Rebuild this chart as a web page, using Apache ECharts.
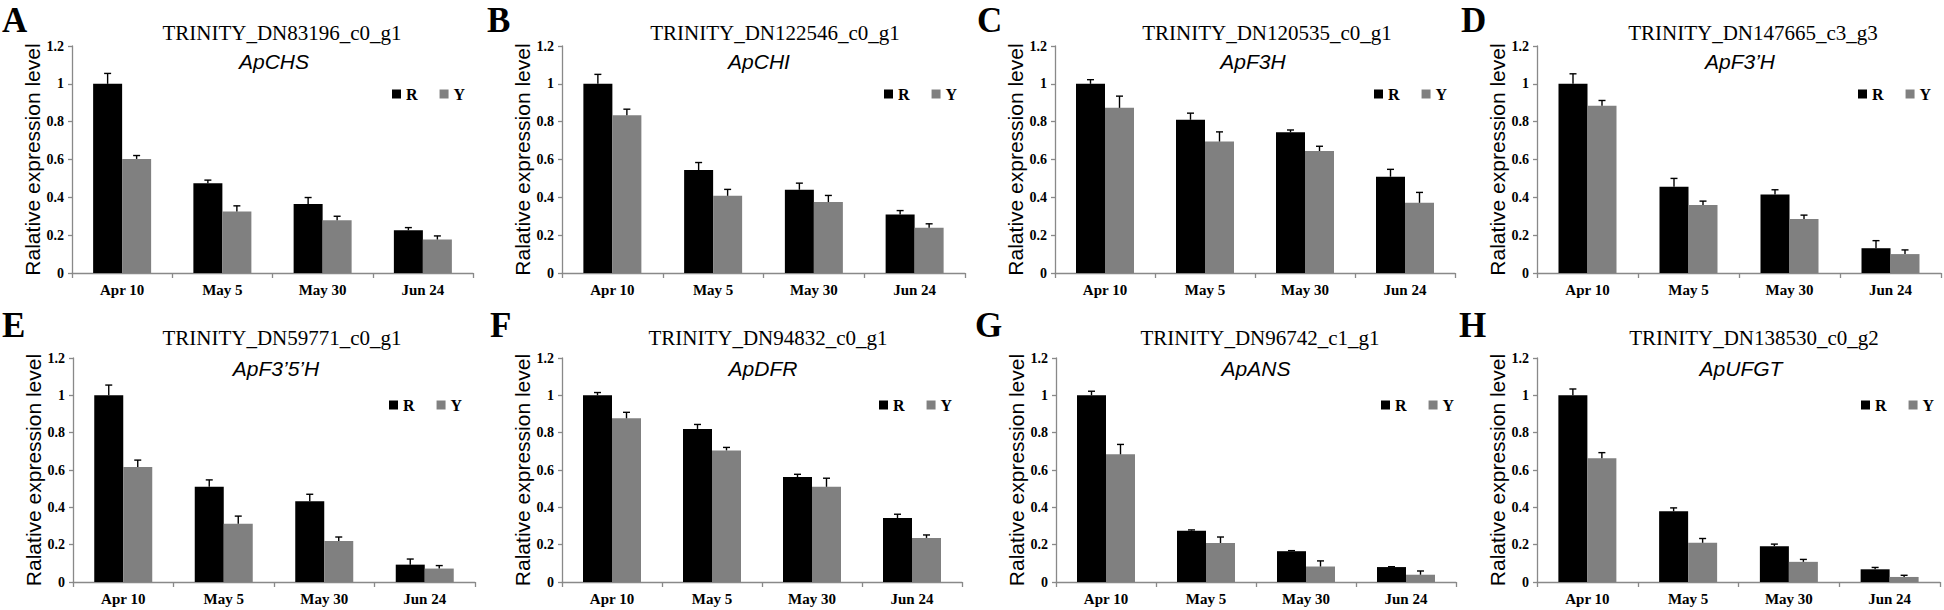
<!DOCTYPE html>
<html><head><meta charset="utf-8">
<script src="https://cdn.jsdelivr.net/npm/echarts@6/dist/echarts.min.js"></script>
<style>html,body{margin:0;padding:0;background:#fff;}#c{width:1944px;height:610px;}</style>
</head><body><div id="c"></div>
<script>
// ---------- DATA ----------
const categories = ['Apr 10', 'May 5', 'May 30', 'Jun 24'];
const seriesNames = ['R', 'Y'];
const panelLetters = ['A', 'B', 'C', 'D', 'E', 'F', 'G', 'H'];
const geneIds = ['TRINITY_DN83196_c0_g1', 'TRINITY_DN122546_c0_g1', 'TRINITY_DN120535_c0_g1', 'TRINITY_DN147665_c3_g3',
                 'TRINITY_DN59771_c0_g1', 'TRINITY_DN94832_c0_g1', 'TRINITY_DN96742_c1_g1', 'TRINITY_DN138530_c0_g2'];
const geneNames = ['ApCHS', 'ApCHI', 'ApF3H', 'ApF3\u2019H', 'ApF3\u20195\u2019H', 'ApDFR', 'ApANS', 'ApUFGT'];
const yAxisName = 'Ralative expression level';
const yMin = 0, yMax = 1.2, yInterval = 0.2;

const chsR = [1.00, 0.475, 0.365, 0.226];   const chsRErr = [0.055, 0.016, 0.034, 0.014];
const chsY = [0.603, 0.325, 0.279, 0.177];  const chsYErr = [0.018, 0.030, 0.021, 0.019];
const chiR = [1.00, 0.544, 0.440, 0.309];   const chiRErr = [0.050, 0.040, 0.035, 0.021];
const chiY = [0.834, 0.408, 0.375, 0.239];  const chiYErr = [0.032, 0.034, 0.035, 0.021];
const f3hR = [1.00, 0.810, 0.744, 0.509];   const f3hRErr = [0.022, 0.035, 0.012, 0.039];
const f3hY = [0.873, 0.695, 0.645, 0.371];  const f3hYErr = [0.062, 0.051, 0.025, 0.055];
const f3phR = [1.00, 0.456, 0.415, 0.131];  const f3phRErr = [0.053, 0.044, 0.025, 0.040];
const f3phY = [0.884, 0.360, 0.285, 0.100]; const f3phYErr = [0.028, 0.020, 0.021, 0.022];
const f35hR = [1.00, 0.510, 0.433, 0.093];  const f35hRErr = [0.055, 0.037, 0.037, 0.030];
const f35hY = [0.616, 0.312, 0.220, 0.072]; const f35hYErr = [0.037, 0.041, 0.021, 0.016];
const dfrR = [1.00, 0.820, 0.562, 0.343];   const dfrRErr = [0.015, 0.024, 0.015, 0.020];
const dfrY = [0.877, 0.705, 0.510, 0.236];  const dfrYErr = [0.032, 0.016, 0.046, 0.016];
const ansR = [1.00, 0.275, 0.165, 0.080];   const ansRErr = [0.022, 0.004, 0.003, 0.002];
const ansY = [0.684, 0.209, 0.083, 0.039];  const ansYErr = [0.053, 0.032, 0.030, 0.020];
const ufgtR = [1.00, 0.379, 0.192, 0.068];  const ufgtRErr = [0.034, 0.018, 0.011, 0.010];
const ufgtY = [0.663, 0.210, 0.108, 0.027]; const ufgtYErr = [0.030, 0.023, 0.013, 0.009];

const rMeans = [chsR, chiR, f3hR, f3phR, f35hR, dfrR, ansR, ufgtR];
const rErrs  = [chsRErr, chiRErr, f3hRErr, f3phRErr, f35hRErr, dfrRErr, ansRErr, ufgtRErr];
const yMeans = [chsY, chiY, f3hY, f3phY, f35hY, dfrY, ansY, ufgtY];
const yErrs  = [chsYErr, chiYErr, f3hYErr, f3phYErr, f35hYErr, dfrYErr, ansYErr, ufgtYErr];

// ---------- LAYOUT ----------
const layout = [
  {left: 72,   top: 46,  w: 401, h: 227, idX: 282,  idY: 33,  gX: 274,  gY: 61,  legX: 392,  legY: 86,  letX: 2,    letY: 20},
  {left: 562,  top: 46,  w: 403, h: 227, idX: 775,  idY: 33,  gX: 759,  gY: 61,  legX: 884,  legY: 86,  letX: 487,  letY: 20},
  {left: 1055, top: 46,  w: 400, h: 227, idX: 1267, idY: 33,  gX: 1253, gY: 61,  legX: 1374, legY: 86,  letX: 977,  letY: 20},
  {left: 1537, top: 46,  w: 404, h: 227, idX: 1753, idY: 33,  gX: 1740, gY: 61,  legX: 1858, legY: 86,  letX: 1461, letY: 20},
  {left: 73,   top: 358, w: 402, h: 224, idX: 282,  idY: 338, gX: 276,  gY: 368, legX: 389,  legY: 397, letX: 2,    letY: 325},
  {left: 562,  top: 358, w: 400, h: 224, idX: 768,  idY: 338, gX: 763,  gY: 368, legX: 879,  legY: 397, letX: 490,  letY: 325},
  {left: 1056, top: 358, w: 400, h: 224, idX: 1260, idY: 338, gX: 1256, gY: 368, legX: 1381, legY: 397, letX: 975,  letY: 325},
  {left: 1537, top: 358, w: 403, h: 224, idX: 1754, idY: 338, gX: 1741, gY: 368, legX: 1861, legY: 397, letX: 1459, letY: 325}
];
const BAR_W = 29;
const SERIF = 'Liberation Serif, Times New Roman, serif';
const SANS = 'Liberation Sans, Arial, sans-serif';
const AXIS_COLOR = '#898989';
const colors = {R: '#000000', Y: '#808080'};

function errRender(offset) {
  return function (params, api) {
    const idx = api.value(0), v = api.value(1), e = api.value(2);
    const base = api.coord([idx, v]);
    const top = api.coord([idx, v + e]);
    const x = base[0] + offset;
    return {
      type: 'group',
      children: [
        {type: 'line', shape: {x1: x, y1: base[1], x2: x, y2: top[1]}, style: {stroke: '#000', lineWidth: 1.4}},
        {type: 'line', shape: {x1: x - 3.5, y1: top[1], x2: x + 3.5, y2: top[1]}, style: {stroke: '#000', lineWidth: 1.4}}
      ]
    };
  };
}

const grids = [], xAxes = [], yAxes = [], series = [], legends = [], graphics = [];
layout.forEach((p, i) => {
  grids.push({left: p.left, top: p.top, width: p.w, height: p.h, containLabel: false, outerBoundsMode: 'none'});
  xAxes.push({
    type: 'category', gridIndex: i, data: categories,
    axisLine: {show: true, lineStyle: {color: AXIS_COLOR, width: 1.3}},
    axisTick: {show: true, length: 5, lineStyle: {color: AXIS_COLOR, width: 1.3}},
    axisLabel: {color: '#000', fontFamily: SERIF, fontWeight: 'bold', fontSize: 15, margin: 9}
  });
  yAxes.push({
    type: 'value', gridIndex: i, min: yMin, max: yMax, interval: yInterval,
    name: yAxisName, nameLocation: 'middle', nameGap: 21,
    nameTextStyle: {color: '#000', fontFamily: SANS, fontSize: 21},
    axisLine: {show: true, lineStyle: {color: AXIS_COLOR, width: 1.3}},
    axisTick: {show: true, length: 4, lineStyle: {color: AXIS_COLOR, width: 1.3}},
    splitLine: {show: false},
    axisLabel: {color: '#000', fontFamily: SERIF, fontWeight: 'bold', fontSize: 14, margin: 8}
  });
  series.push({
    name: seriesNames[0], type: 'bar', xAxisIndex: i, yAxisIndex: i, data: rMeans[i],
    barWidth: BAR_W, barGap: '0%', itemStyle: {color: colors.R}
  });
  series.push({
    name: seriesNames[1], type: 'bar', xAxisIndex: i, yAxisIndex: i, data: yMeans[i],
    barWidth: BAR_W, barGap: '0%', itemStyle: {color: colors.Y}
  });
  series.push({
    type: 'custom', xAxisIndex: i, yAxisIndex: i, z: 5, renderItem: errRender(-BAR_W / 2),
    encode: {x: 0, y: 1},
    data: categories.map((c, j) => [j, rMeans[i][j], rErrs[i][j]])
  });
  series.push({
    type: 'custom', xAxisIndex: i, yAxisIndex: i, z: 5, renderItem: errRender(BAR_W / 2),
    encode: {x: 0, y: 1},
    data: categories.map((c, j) => [j, yMeans[i][j], yErrs[i][j]])
  });
  legends.push({
    data: seriesNames, left: p.legX, top: p.legY, orient: 'horizontal', icon: 'rect',
    itemWidth: 9, itemHeight: 9, itemGap: 22, selectedMode: false, padding: 0,
    textStyle: {color: '#000', fontFamily: SERIF, fontWeight: 'bold', fontSize: 16}
  });
  graphics.push({type: 'text', x: p.idX, y: p.idY, style: {text: geneIds[i], align: 'center', verticalAlign: 'middle', fill: '#000', font: 'normal 21px ' + SERIF}});
  graphics.push({type: 'text', x: p.gX, y: p.gY, style: {text: geneNames[i], align: 'center', verticalAlign: 'middle', fill: '#000', font: 'italic 21px ' + SANS}});
  graphics.push({type: 'text', x: p.letX, y: p.letY, style: {text: panelLetters[i], align: 'left', verticalAlign: 'middle', fill: '#000', font: 'bold 35px ' + SERIF}});
});

const chart = echarts.init(document.getElementById('c'), null, {renderer: 'svg'});
chart.setOption({
  animation: false,
  backgroundColor: '#fff',
  grid: grids, xAxis: xAxes, yAxis: yAxes, series: series, legend: legends,
  graphic: graphics
});
</script>
</body></html>
